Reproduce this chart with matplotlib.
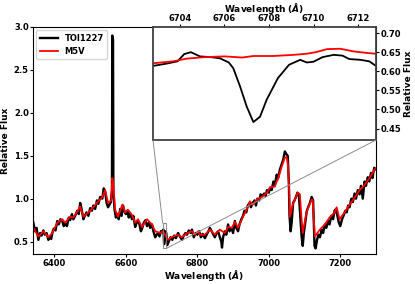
import numpy as np
import matplotlib.pyplot as plt
from matplotlib.patches import ConnectionPatch

plt.rcParams['font.weight'] = 'bold'
plt.rcParams['axes.labelweight'] = 'bold'

# main spectrum, TOI1227 (black)
wl_obs = [6341, 6346, 6350, 6355, 6360, 6364, 6369, 6373, 6378, 6383, 6387, 6391, 6394, 6398,
          6403, 6408, 6412, 6417, 6422, 6426, 6430, 6435, 6440, 6444, 6449, 6453, 6458, 6464,
          6468, 6472, 6476, 6481, 6485, 6490, 6495, 6500, 6505, 6509, 6514, 6519, 6523, 6528,
          6534, 6538, 6542, 6546, 6550, 6554, 6558, 6561, 6562, 6564, 6565, 6568, 6572, 6576,
          6580, 6584, 6588, 6592, 6596, 6600, 6604, 6608, 6612, 6617, 6621, 6626, 6630, 6634,
          6638, 6642, 6646, 6650, 6655, 6659, 6664, 6668, 6673, 6677, 6682, 6686, 6690, 6694,
          6698, 6702, 6705, 6707, 6710, 6713, 6716, 6720, 6725, 6730, 6735, 6740, 6746, 6751,
          6757, 6762, 6767, 6771, 6776, 6781, 6785, 6790, 6795, 6800, 6805, 6810, 6815, 6821,
          6826, 6831, 6835, 6840, 6845, 6849, 6854, 6858, 6863, 6867, 6869, 6872, 6877, 6881,
          6886, 6890, 6895, 6900, 6905, 6909, 6914, 6918, 6923, 6928, 6932, 6937, 6941, 6946,
          6950, 6955, 6960, 6964, 6968, 6973, 6977, 6982, 6987, 6991, 6995, 7000, 7004, 7008,
          7013, 7017, 7022, 7026, 7031, 7036, 7040, 7045, 7049, 7053, 7056, 7058, 7061, 7064,
          7068, 7072, 7076, 7080, 7084, 7088, 7092, 7095, 7098, 7102, 7106, 7110, 7115, 7120,
          7124, 7126, 7128, 7131, 7135, 7139, 7143, 7148, 7152, 7157, 7161, 7166, 7170, 7175,
          7180, 7184, 7188, 7192, 7196, 7200, 7205, 7209, 7214, 7218, 7222, 7226, 7231, 7235,
          7240, 7244, 7249, 7254, 7258, 7263, 7268, 7272, 7277, 7281, 7286, 7290, 7295, 7300]
flux_obs = [0.72, 0.62, 0.66, 0.52, 0.60, 0.57, 0.63, 0.58, 0.60, 0.52, 0.55, 0.53, 0.60, 0.65,
            0.63, 0.74, 0.70, 0.76, 0.74, 0.68, 0.71, 0.68, 0.78, 0.75, 0.82, 0.76, 0.80, 0.86,
            0.82, 0.95, 0.88, 0.76, 0.80, 0.84, 0.80, 0.89, 0.86, 0.92, 0.88, 0.98, 0.94, 1.02,
            1.00, 1.12, 1.08, 0.95, 0.90, 0.93, 0.96, 1.10, 2.90, 2.85, 1.10, 0.88, 0.78, 0.82,
            0.76, 0.88, 0.80, 0.92, 0.85, 0.82, 0.86, 0.78, 0.83, 0.76, 0.80, 0.67, 0.72, 0.74,
            0.70, 0.62, 0.66, 0.72, 0.75, 0.68, 0.72, 0.66, 0.70, 0.62, 0.55, 0.58, 0.60, 0.56,
            0.62, 0.61, 0.64, 0.47, 0.62, 0.60, 0.46, 0.50, 0.55, 0.52, 0.57, 0.54, 0.60, 0.56,
            0.52, 0.57, 0.60, 0.58, 0.63, 0.60, 0.64, 0.55, 0.60, 0.58, 0.62, 0.55, 0.59, 0.54,
            0.58, 0.62, 0.66, 0.62, 0.58, 0.55, 0.60, 0.62, 0.55, 0.50, 0.43, 0.55, 0.62, 0.58,
            0.70, 0.62, 0.66, 0.60, 0.74, 0.66, 0.62, 0.70, 0.76, 0.80, 0.86, 0.84, 0.92, 0.95,
            0.90, 0.95, 0.98, 0.92, 1.00, 0.98, 1.05, 1.03, 1.06, 1.03, 1.10, 1.07, 1.13, 1.10,
            1.20, 1.16, 1.28, 1.24, 1.34, 1.40, 1.45, 1.55, 1.52, 1.50, 1.20, 0.80, 0.62, 0.72,
            0.95, 0.98, 1.02, 1.07, 1.05, 0.80, 0.55, 0.45, 0.60, 0.72, 0.85, 0.90, 0.95, 1.02,
            0.98, 0.70, 0.45, 0.42, 0.52, 0.58, 0.55, 0.64, 0.60, 0.70, 0.66, 0.74, 0.70, 0.80,
            0.76, 0.86, 0.88, 0.80, 0.72, 0.68, 0.76, 0.80, 0.86, 0.84, 0.92, 0.90, 1.00, 0.96,
            1.06, 1.00, 1.10, 1.05, 1.15, 1.00, 1.20, 1.15, 1.25, 1.20, 1.30, 1.24, 1.36, 1.34]

# M5V template (red)
wl_tmp = [6341, 6355, 6369, 6383, 6394, 6408, 6422, 6430, 6444, 6453, 6464, 6472, 6481, 6495,
          6509, 6523, 6534, 6542, 6550, 6559, 6562, 6564, 6570, 6578, 6590, 6598, 6606, 6617,
          6626, 6634, 6645, 6659, 6673, 6682, 6696, 6704, 6718, 6732, 6746, 6757, 6771, 6785,
          6793, 6802, 6807, 6821, 6835, 6849, 6863, 6877, 6886, 6897, 6905, 6914, 6928, 6941,
          6947, 6955, 6967, 6981, 6995, 7003, 7011, 7017, 7022, 7025, 7036, 7045, 7050, 7053,
          7057, 7059, 7067, 7081, 7087, 7091, 7095, 7106, 7120, 7123, 7126, 7129, 7143, 7157,
          7170, 7184, 7190, 7198, 7212, 7226, 7240, 7254, 7268, 7282, 7296, 7300]
flux_tmp = [0.66, 0.56, 0.62, 0.55, 0.60, 0.72, 0.76, 0.72, 0.79, 0.78, 0.85, 0.91, 0.79, 0.84,
            0.90, 0.97, 1.02, 1.10, 0.95, 0.98, 1.24, 1.20, 0.87, 0.79, 0.93, 0.84, 0.87, 0.81,
            0.72, 0.76, 0.67, 0.76, 0.70, 0.62, 0.60, 0.62, 0.52, 0.56, 0.58, 0.55, 0.60, 0.62,
            0.58, 0.62, 0.58, 0.58, 0.64, 0.58, 0.64, 0.60, 0.67, 0.66, 0.73, 0.66, 0.79, 0.90,
            0.97, 0.93, 0.99, 1.02, 1.07, 1.13, 1.14, 1.14, 1.20, 1.22, 1.37, 1.48, 1.48, 1.42,
            1.10, 0.79, 0.93, 1.07, 1.05, 0.80, 0.60, 0.85, 0.99, 0.98, 0.75, 0.56, 0.64, 0.70,
            0.78, 0.84, 0.90, 0.76, 0.84, 0.93, 1.01, 1.10, 1.16, 1.24, 1.34, 1.35]

# zoom on Li I 6708
wl_ins_obs = [6702.8, 6703.4, 6703.9, 6704.2, 6704.5, 6704.9, 6705.4, 6705.8, 6706.2, 6706.4,
              6706.7, 6707.0, 6707.3, 6707.6, 6707.9, 6708.4, 6708.9, 6709.4, 6709.7, 6710.0,
              6710.4, 6710.9, 6711.3, 6711.6, 6712.1, 6712.5, 6712.8]
flux_ins_obs = [0.614, 0.620, 0.626, 0.645, 0.650, 0.639, 0.637, 0.634, 0.623, 0.608,
                0.561, 0.508, 0.467, 0.481, 0.526, 0.582, 0.617, 0.630, 0.623, 0.625,
                0.637, 0.643, 0.641, 0.632, 0.630, 0.626, 0.614]
wl_ins_tmp = [6702.8, 6703.7, 6704.3, 6705.1, 6706.0, 6706.8, 6707.3, 6708.2, 6709.1, 6709.7,
              6710.1, 6710.6, 6711.2, 6711.8, 6712.4, 6712.8]
flux_ins_tmp = [0.621, 0.626, 0.633, 0.637, 0.639, 0.636, 0.640, 0.640, 0.643, 0.646,
                0.650, 0.658, 0.659, 0.652, 0.648, 0.646]

xlim_ins = (6702.8, 6712.8)
ylim_ins = (0.42, 0.716)

fig = plt.figure(figsize=(4.15, 2.84), dpi=100)
ax = fig.add_axes([0.0795, 0.104, 0.8265, 0.801])
ax.plot(wl_obs, flux_obs, color='black', lw=1.7, label='TOI1227')
ax.plot(wl_tmp, flux_tmp, color='red', lw=1.3, label='M5V')
ax.set_xlim(6340, 7300)
ax.set_ylim(0.35, 3.0)
ax.set_xticks([6400, 6600, 6800, 7000, 7200])
ax.set_yticks([0.5, 1.0, 1.5, 2.0, 2.5, 3.0])
ax.tick_params(labelsize=6, length=2, width=0.8, pad=1)
ax.set_xlabel('Wavelength ($\\AA$)', fontsize=6.5, labelpad=0)
ax.set_ylabel('Relative Flux', fontsize=6.5, labelpad=3)
ax.legend(loc='upper left', fontsize=6, handlelength=2.2, borderaxespad=0.4)

axins = fig.add_axes([0.3687, 0.507, 0.5373, 0.398])
axins.plot(wl_ins_obs, flux_ins_obs, color='black', lw=1.3)
axins.plot(wl_ins_tmp, flux_ins_tmp, color='red', lw=1.3)
axins.set_xlim(*xlim_ins)
axins.set_ylim(*ylim_ins)
axins.set_xticks([6704, 6706, 6708, 6710, 6712])
axins.set_yticks([0.45, 0.50, 0.55, 0.60, 0.65, 0.70])
axins.xaxis.tick_top()
axins.xaxis.set_label_position('top')
axins.yaxis.tick_right()
axins.yaxis.set_label_position('right')
axins.tick_params(labelsize=6, length=2, width=0.8, pad=1)
axins.set_xlabel('Wavelength ($\\AA$)', fontsize=6.5, labelpad=1)
axins.set_ylabel('Relative Flux', fontsize=6.5, labelpad=2)
for s in axins.spines.values():
    s.set_linewidth(1.3)
    s.set_edgecolor('0.25')

# zoom box and connector lines
ax.indicate_inset([xlim_ins[0], ylim_ins[0], xlim_ins[1] - xlim_ins[0], ylim_ins[1] - ylim_ins[0]],
                  edgecolor='0.5', alpha=0.9, lw=0.8)
for xa, xb, yb in [(0, xlim_ins[0], ylim_ins[1]), (1, xlim_ins[1], ylim_ins[0])]:
    con = ConnectionPatch(xyA=(xa, 0), coordsA=axins.transAxes,
                          xyB=(xb, yb), coordsB=ax.transData,
                          color='0.55', lw=0.7)
    fig.add_artist(con)

fig.savefig('out.png', dpi=100)
